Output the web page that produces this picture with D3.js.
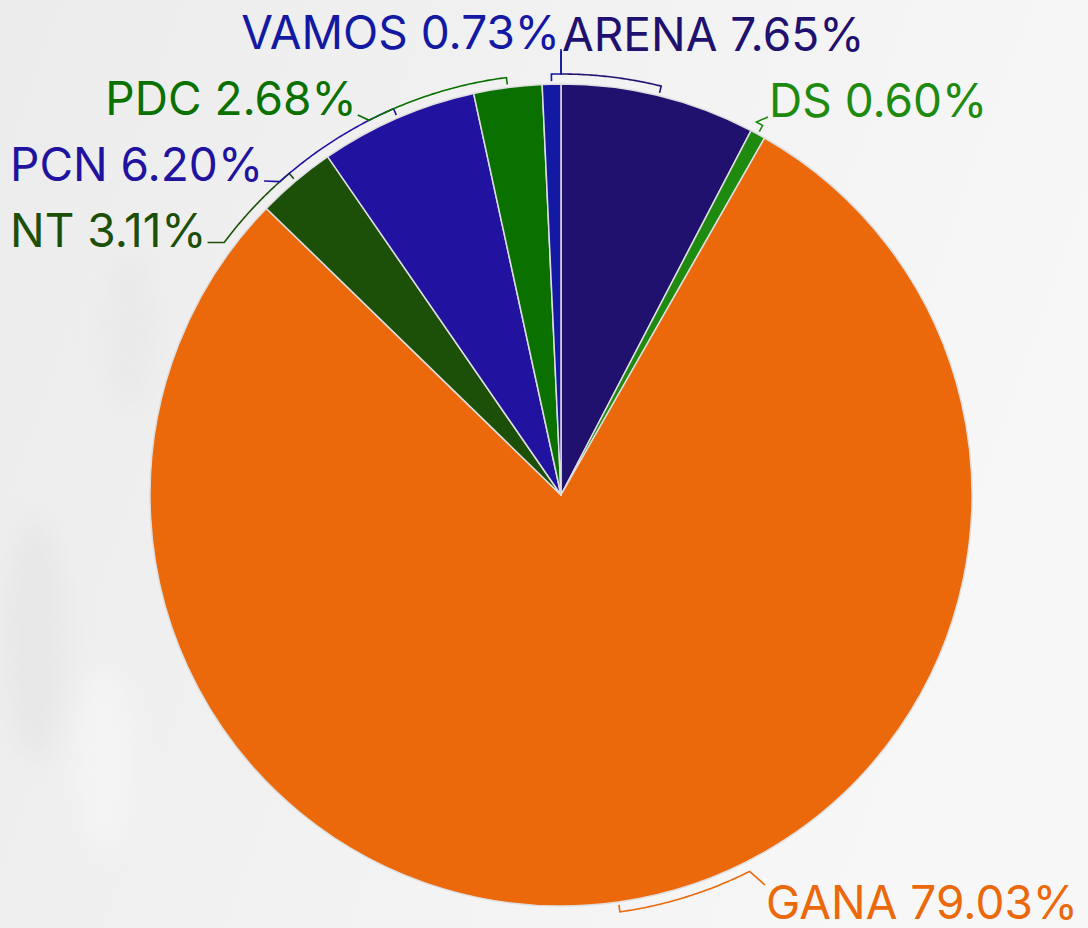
<!DOCTYPE html>
<html>
<head>
<meta charset="utf-8">
<title>Pie</title>
<script src="https://d3js.org/d3.v7.min.js"></script>
<style>
  body { margin: 0; background: #f2f2f2; }
  svg { display: block; }
</style>
</head>
<body>
<script>
var w = 1088, h = 928;

// data
var parties = ["ARENA", "DS", "GANA", "NT", "PCN", "PDC", "VAMOS"];
var shares  = [7.65, 0.60, 79.03, 3.11, 6.20, 2.68, 0.73];
var colors  = ["#20116f", "#1f8a10", "#eb690a", "#1c4f08", "#2113a0", "#0a7100", "#1419a3"];

var data = parties.map(function(p, i){ return {name: p, value: shares[i], color: colors[i]}; });

var cx = 561, cy = 495, r = 411;
var labelR = 463;    // circle of label centres
var labelRx = 446;   // horizontal reach of labels
var gap = 66;        // min vertical distance between labels
var fontSize = 46;
var capH = 34;
var font = "Inter, 'Open Sans', sans-serif";

function labelText(d){ return d.name + " " + d3.format(".2f")(d.value) + "%"; }

var svg = d3.select("body").append("svg").attr("width", w).attr("height", h);

// background
var defs = svg.append("defs");
var bg = defs.append("linearGradient").attr("id", "bg").attr("x1", 0).attr("x2", 1).attr("y1", 0).attr("y2", 0.3);
bg.append("stop").attr("offset", "0%").attr("stop-color", "#ececec");
bg.append("stop").attr("offset", "55%").attr("stop-color", "#f2f2f2");
bg.append("stop").attr("offset", "100%").attr("stop-color", "#f7f7f7");
defs.append("filter").attr("id", "blur").append("feGaussianBlur").attr("stdDeviation", 12);

svg.append("rect").attr("width", w).attr("height", h).attr("fill", "url(#bg)");

var blobs = svg.append("g").attr("filter", "url(#blur)").attr("opacity", 0.7);
blobs.append("ellipse").attr("cx", 35).attr("cy", 640).attr("rx", 30).attr("ry", 120).attr("fill", "#e4e4e4");
blobs.append("ellipse").attr("cx", 105).attr("cy", 760).attr("rx", 28).attr("ry", 90).attr("fill", "#f6f6f6");
blobs.append("ellipse").attr("cx", 130).attr("cy", 330).attr("rx", 25).attr("ry", 80).attr("fill", "#e8e8e8");

// pie
var pie = d3.pie().sort(null).value(function(d){ return d.value; });
var arcs = pie(data);
var arc = d3.arc().innerRadius(0).outerRadius(r);

var g = svg.append("g").attr("transform", "translate(" + cx + "," + cy + ")");

g.selectAll("path.slice")
  .data(arcs)
  .enter()
  .append("path")
  .attr("class", "slice")
  .attr("d", arc)
  .attr("fill", function(d){ return d.data.color; })
  .attr("stroke", "#dedede")
  .attr("stroke-width", 1.5)
  .attr("stroke-linejoin", "round");

// measure label widths
var probe = svg.append("text").attr("font-family", font).attr("font-size", fontSize);
arcs.forEach(function(a){
  probe.text(labelText(a.data));
  a.tw = probe.node().getComputedTextLength();
});
probe.remove();

// label layout
arcs.forEach(function(a){
  a.mid = (a.startAngle + a.endAngle) / 2;
  a.side = Math.sin(a.mid) >= 0 ? 1 : -1;
  a.ly = cy - labelR * Math.cos(a.mid);
  a.clamped = false;
});

var maxY = h - capH / 2 - 9;
function relax(list){
  list.sort(function(a, b){ return a.ly - b.ly; });
  for (var it = 0; it < 200; it++){
    for (var i = 1; i < list.length; i++){
      var d = list[i].ly - list[i-1].ly;
      if (d < gap){
        var push = (gap - d) / 2;
        list[i-1].ly -= push;
        list[i].ly += push;
      }
    }
    list.forEach(function(a){
      if (a.ly < cy - labelR) a.ly = cy - labelR;
      if (a.ly > maxY){ a.ly = maxY; a.clamped = true; }
    });
  }
}
relax(arcs.filter(function(a){ return a.side < 0; }));
relax(arcs.filter(function(a){ return a.side > 0; }));

var rb = r + 10;
var pad = 10;
arcs.forEach(function(a){
  var dy = cy - a.ly;
  var off;
  if (a.clamped){
    // slid along the label circle up from the bottom edge
    off = labelRx * Math.sin(Math.acos(dy / labelR));
  } else {
    off = Math.sqrt(Math.max(0, labelRx * labelRx - dy * dy));
  }
  // keep the whole label inside the picture
  var room = a.side > 0 ? (w - pad - cx) : (cx - pad);
  off = Math.min(off, room - a.tw - 1);
  a.ax = cx + a.side * off;
  a.tx = a.ax + a.side * 1;
  // attach angle on the bracket circle, kept next to the slice angle
  var ta = Math.atan2(a.ax - cx, cy - a.ly);
  while (ta - a.mid > Math.PI) ta -= 2 * Math.PI;
  while (a.mid - ta > Math.PI) ta += 2 * Math.PI;
  a.ta = ta;
  var py = cy - rb * Math.cos(a.ta);
  a.ay = Math.max(a.ly - capH / 2, Math.min(a.ly + capH / 2, py));
});

// ticks
var line = d3.line();
svg.append("g").selectAll("path.tick")
  .data(arcs)
  .enter()
  .append("path")
  .attr("class", "tick")
  .attr("fill", "none")
  .attr("stroke", function(d){ return d.data.color; })
  .attr("stroke-width", 1.6)
  .attr("d", function(d){
    var pts = [];
    pts.push([cx + (r + 3) * Math.sin(d.mid), cy - (r + 3) * Math.cos(d.mid)]);
    d3.range(0, 1.0001, 0.02).forEach(function(t){
      var ang = d.mid + (d.ta - d.mid) * t;
      pts.push([cx + rb * Math.sin(ang), cy - rb * Math.cos(ang)]);
    });
    pts.push([d.ax, d.ay]);
    return line(pts);
  });

// labels
svg.append("g").selectAll("text")
  .data(arcs)
  .enter()
  .append("text")
  .attr("x", function(d){ return d.tx; })
  .attr("y", function(d){ return d.ly + capH / 2; })
  .attr("text-anchor", function(d){ return d.side > 0 ? "start" : "end"; })
  .attr("font-family", font)
  .attr("font-size", fontSize)
  .attr("fill", function(d){ return d.data.color; })
  .text(function(d){ return labelText(d.data); });
</script>
</body>
</html>
